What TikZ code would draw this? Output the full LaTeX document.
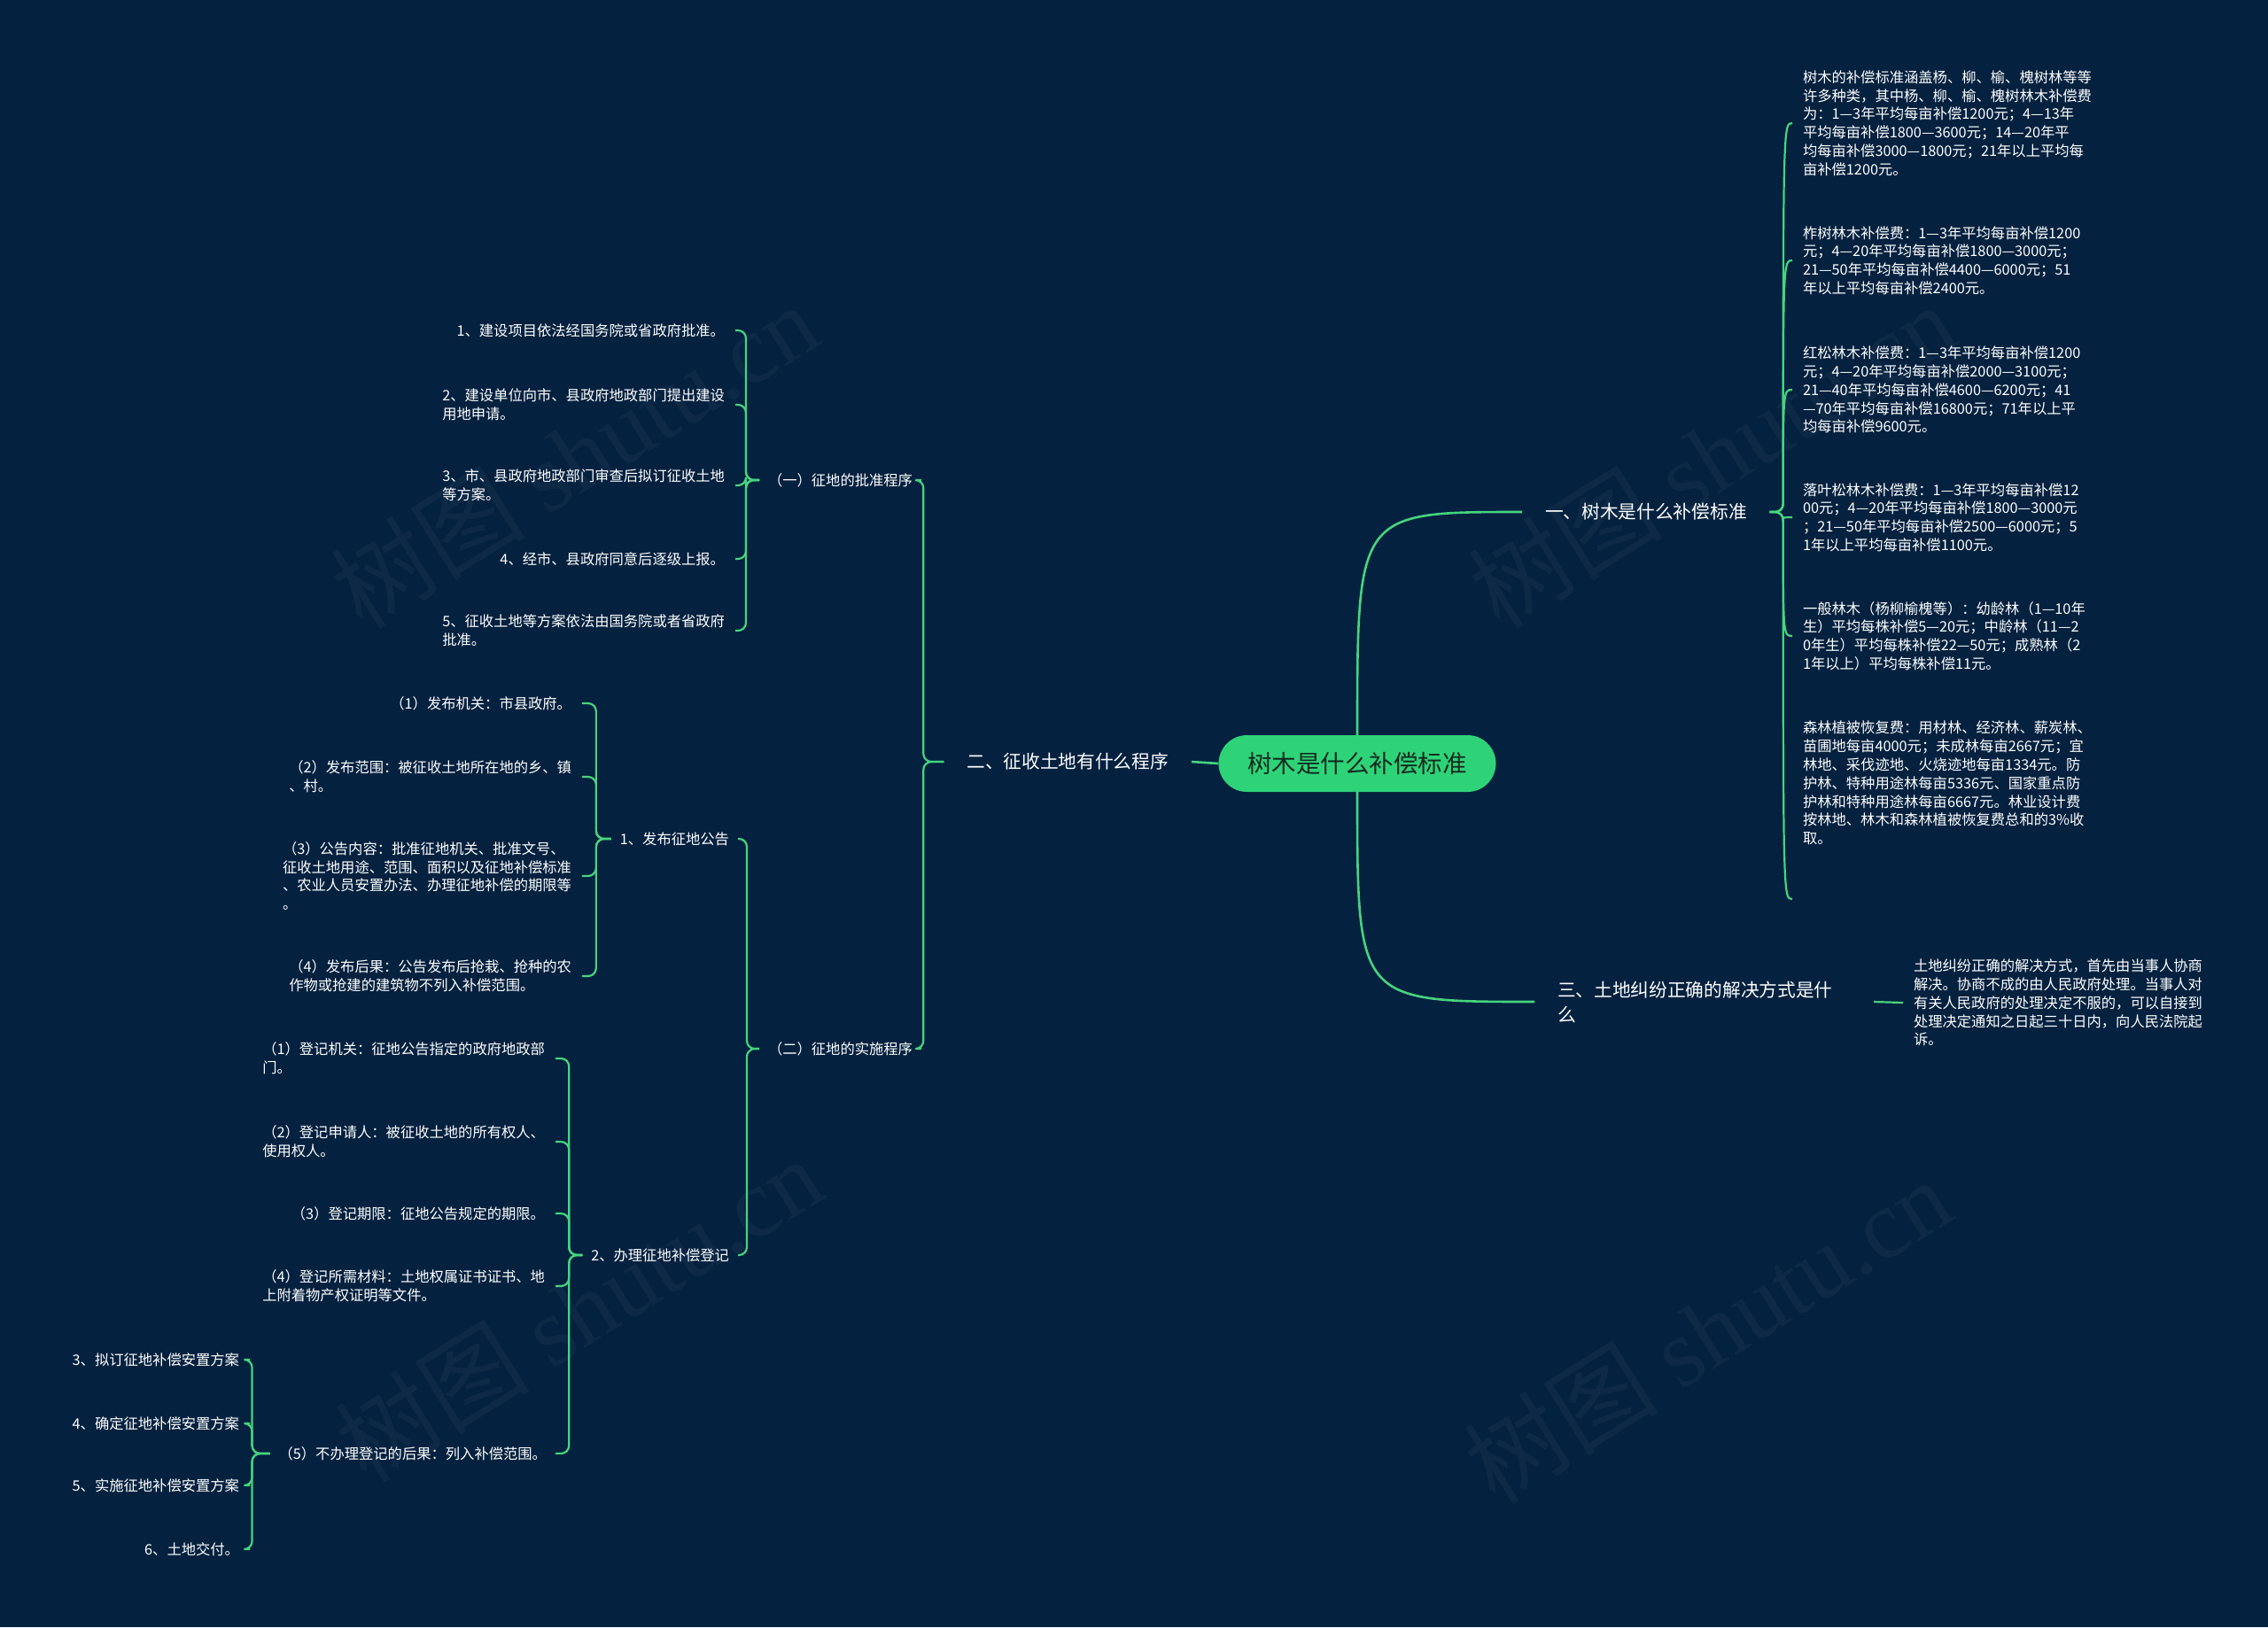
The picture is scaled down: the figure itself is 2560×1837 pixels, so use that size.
\documentclass[tikz,border=0pt]{standalone}
\usepackage{fontspec}
\setmainfont{Noto Sans CJK SC}
\newfontfamily\wmfont{Liberation Serif}
\definecolor{bgnavy}{RGB}{4,33,63}
\definecolor{linkgreen}{RGB}{70,212,126}
\definecolor{rootgreen}{RGB}{46,211,120}
\definecolor{roottext}{RGB}{18,42,32}
\tikzset{
  rootbox/.style={fill=rootgreen, rounded corners=32pt, minimum width=313pt, minimum height=64pt, text=roottext, font=\fontsize{27.5}{32}\selectfont},
  topic/.style={text=white, inner sep=0pt, outer xsep=26pt, align=left, font=\fontsize{20.7}{28}\selectfont},
  sub/.style={text=white, inner sep=0pt, outer xsep=10pt, font=\fontsize{16.3}{20.8}\selectfont},
  leaf/.style={text=white, inner sep=0pt, outer xsep=12pt, align=left, font=\fontsize{16.3}{20.8}\selectfont},
  link/.style={draw=linkgreen, line width=2.2pt, rounded corners=9pt},
  mainlink/.style={draw=linkgreen, line width=2.6pt},
  watermark/.style={text=white, opacity=0.04, rotate=32, font=\fontsize{110}{120}\selectfont}
}
\begin{document}
\begin{tikzpicture}[x=1pt,y=-1pt]
\fill [bgnavy] (0,0) rectangle (2560,1837);
\useasboundingbox (0,0) rectangle (2560,1837);

% watermarks
\node[watermark] (wm1) at (648,514) {树图 {\wmfont shutu.cn}};
\node[watermark] (wm2) at (1932,514) {树图 {\wmfont shutu.cn}};
\node[watermark] (wm3) at (653,1478) {树图 {\wmfont shutu.cn}};
\node[watermark] (wm4) at (1927,1502) {树图 {\wmfont shutu.cn}};

\node[rootbox] (root) at (1532,862) {树木是什么补偿标准};

\node[topic, anchor=west] (b1) at (1718,578) {一、树木是什么补偿标准};
\node[topic, anchor=east] (b2) at (1345,860) {二、征收土地有什么程序};
\node[topic, anchor=west, text width=331pt] (b3) at (1732,1131) {三、土地纠纷正确的解决方式是什\\么};

% right side
\node[leaf, anchor=west] (r1) at (2023,139) {树木的补偿标准涵盖杨、柳、榆、槐树林等等\\许多种类，其中杨、柳、榆、槐树林木补偿费\\为：1—3年平均每亩补偿1200元；4—13年\\平均每亩补偿1800—3600元；14—20年平\\均每亩补偿3000—1800元；21年以上平均每\\亩补偿1200元。};
\node[leaf, anchor=west] (r2) at (2023,294) {柞树林木补偿费：1—3年平均每亩补偿1200\\元；4—20年平均每亩补偿1800—3000元；\\21—50年平均每亩补偿4400—6000元；51\\年以上平均每亩补偿2400元。};
\node[leaf, anchor=west] (r3) at (2023,440) {红松林木补偿费：1—3年平均每亩补偿1200\\元；4—20年平均每亩补偿2000—3100元；\\21—40年平均每亩补偿4600—6200元；41\\—70年平均每亩补偿16800元；71年以上平\\均每亩补偿9600元。};
\node[leaf, anchor=west] (r4) at (2023,584) {落叶松林木补偿费：1—3年平均每亩补偿12\\00元；4—20年平均每亩补偿1800—3000元\\；21—50年平均每亩补偿2500—6000元；5\\1年以上平均每亩补偿1100元。};
\node[leaf, anchor=west] (r5) at (2023,718) {一般林木（杨柳榆槐等）：幼龄林（1—10年\\生）平均每株补偿5—20元；中龄林（11—2\\0年生）平均每株补偿22—50元；成熟林（2\\1年以上）平均每株补偿11元。};
\node[leaf, anchor=west] (r6) at (2023,884) {森林植被恢复费：用材林、经济林、薪炭林、\\苗圃地每亩4000元；未成林每亩2667元；宜\\林地、采伐迹地、火烧迹地每亩1334元。防\\护林、特种用途林每亩5336元、国家重点防\\护林和特种用途林每亩6667元。林业设计费\\按林地、林木和森林植被恢复费总和的3\%收\\取。};
\node[leaf, anchor=west] (r7) at (2148,1132) {土地纠纷正确的解决方式，首先由当事人协商\\解决。协商不成的由人民政府处理。当事人对\\有关人民政府的处理决定不服的，可以自接到\\处理决定通知之日起三十日内，向人民法院起\\诉。};
\coordinate (r6foot) at (2023,1015);

% left side
\node[sub, anchor=east] (a1) at (1040,542) {（一）征地的批准程序};
\node[sub, anchor=east] (a2) at (1040,1184) {（二）征地的实施程序};

\node[leaf, anchor=east] (c11) at (830,373) {1、建设项目依法经国务院或省政府批准。};
\node[leaf, anchor=east] (c12) at (830,457) {2、建设单位向市、县政府地政部门提出建设\\用地申请。};
\node[leaf, anchor=east] (c13) at (830,548) {3、市、县政府地政部门审查后拟订征收土地\\等方案。};
\node[leaf, anchor=east] (c14) at (830,631) {4、经市、县政府同意后逐级上报。};
\node[leaf, anchor=east] (c15) at (830,712) {5、征收土地等方案依法由国务院或者省政府\\批准。};

\node[sub, anchor=east] (d1) at (833,947) {1、发布征地公告};
\node[sub, anchor=east] (d2) at (833,1417) {2、办理征地补偿登记};

\node[leaf, anchor=east] (e1) at (657,794) {（1）发布机关：市县政府。};
\node[leaf, anchor=east] (e2) at (657,877) {（2）发布范围：被征收土地所在地的乡、镇\\、村。};
\node[leaf, anchor=east] (e3) at (657,989) {（3）公告内容：批准征地机关、批准文号、\\征收土地用途、范围、面积以及征地补偿标准\\、农业人员安置办法、办理征地补偿的期限等\\。};
\node[leaf, anchor=east] (e4) at (657,1102) {（4）发布后果：公告发布后抢栽、抢种的农\\作物或抢建的建筑物不列入补偿范围。};

\node[leaf, anchor=east] (f1) at (627,1195) {（1）登记机关：征地公告指定的政府地政部\\门。};
\node[leaf, anchor=east] (f2) at (627,1289) {（2）登记申请人：被征收土地的所有权人、\\使用权人。};
\node[leaf, anchor=east] (f3) at (627,1370) {（3）登记期限：征地公告规定的期限。};
\node[leaf, anchor=east] (f4) at (627,1452) {（4）登记所需材料：土地权属证书证书、地\\上附着物产权证明等文件。};
\node[sub, anchor=east] (f5) at (627,1641) {（5）不办理登记的后果：列入补偿范围。};

\node[leaf, anchor=east] (g1) at (282,1535) {3、拟订征地补偿安置方案};
\node[leaf, anchor=east] (g2) at (282,1607) {4、确定征地补偿安置方案};
\node[leaf, anchor=east] (g3) at (282,1677) {5、实施征地补偿安置方案};
\node[leaf, anchor=east] (g4) at (282,1749) {6、土地交付。};

% connectors
\draw[mainlink] (root.north) .. controls (root.north |- b1.west) .. (b1.west);
\draw[mainlink] (root.south) .. controls (root.south |- b3.west) .. (b3.west);
\draw[mainlink] (root.west) -- (b2.east);
\draw[link] (b3.east) -- (r7.west);

\coordinate (j1) at ([xshift=15pt]b1.east);
\foreach \r in {r1,r2,r3,r4,r5}
  \draw[link] (b1.east) -- (j1) .. controls (j1 |- \r.west) .. (\r.west);
\draw[link] (b1.east) -- (j1) .. controls (j1 |- r6foot) .. (r6foot);

\draw[link] (b2.west) -- ++(-23,0) |- (a1.east);
\draw[link] (b2.west) -- ++(-23,0) |- (a2.east);
\foreach \c in {c11,c12,c13,c14,c15}
  \draw[link] (a1.west) -- ++(-15,0) |- (\c.east);
\draw[link] (a2.west) -- ++(-14,0) |- (d1.east);
\draw[link] (a2.west) -- ++(-14,0) |- (d2.east);
\foreach \e in {e1,e2,e3,e4}
  \draw[link] (d1.west) -- ++(-17,0) |- (\e.east);
\foreach \f in {f1,f2,f3,f4,f5}
  \draw[link] (d2.west) -- ++(-15,0) |- (\f.east);
\foreach \g in {g1,g2,g3,g4}
  \draw[link] (f5.west) -- ++(-20,0) |- (\g.east);
\end{tikzpicture}
\end{document}
